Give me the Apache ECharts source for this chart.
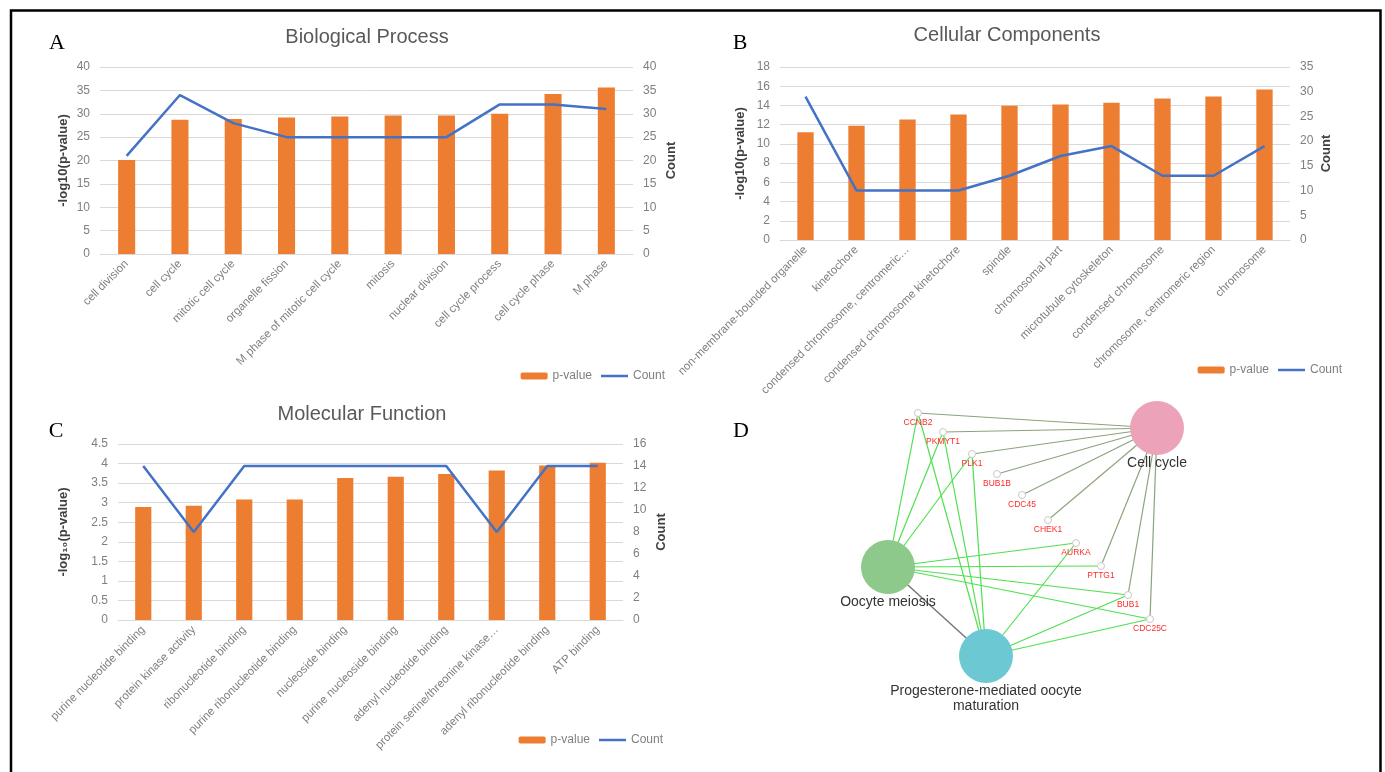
<!DOCTYPE html>
<html>
<head>
<meta charset="utf-8">
<script src="https://cdn.jsdelivr.net/npm/echarts@6/dist/echarts.min.js"></script>
<style>
  html, body { margin: 0; padding: 0; background: #fff; }
  #chart { width: 1385px; height: 772px; }
</style>
</head>
<body>
<div id="chart"></div>
<script>
// GO enrichment: Biological Process
const bpTerms = ['cell division', 'cell cycle', 'mitotic cell cycle', 'organelle fission',
  'M phase of mitotic cell cycle', 'mitosis', 'nuclear division', 'cell cycle process',
  'cell cycle phase', 'M phase'];
const bpLogP = [20.1, 28.7, 28.9, 29.2, 29.4, 29.6, 29.6, 30.0, 34.2, 35.6];
const bpCount = [21, 34, 28, 25, 25, 25, 25, 32, 32, 31];

// Cellular Components
const ccTerms = ['non-membrane-bounded organelle', 'kinetochore', 'condensed chromosome, centromeric…',
  'condensed chromosome kinetochore', 'spindle', 'chromosomal part', 'microtubule cytoskeleton',
  'condensed chromosome', 'chromosome, centromeric region', 'chromosome'];
const ccLogP = [11.2, 11.9, 12.55, 13.07, 13.97, 14.1, 14.28, 14.72, 14.93, 15.66];
const ccCount = [29, 10, 10, 10, 13, 17, 19, 13, 13, 19];

// Molecular Function
const mfTerms = ['purine nucleotide binding', 'protein kinase activity', 'ribonucleotide binding',
  'purine ribonucleotide binding', 'nucleoside binding', 'purine nucleoside binding',
  'adenyl nucleotide binding', 'protein serine/threonine kinase…', 'adenyl ribonucleotide binding',
  'ATP binding'];
const mfLogP = [2.89, 2.92, 3.08, 3.08, 3.63, 3.66, 3.73, 3.82, 3.95, 4.02];
const mfCount = [14, 8, 14, 14, 14, 14, 14, 8, 14, 14];

// KEGG network (D): node positions, in layout units
const pathways = ['Cell cycle', 'Oocyte meiosis', 'Progesterone-mediated oocyte\nmaturation'];
const pathwayPos = [[357, 48], [88, 187], [186, 276]];
const genes = ['CCNB2', 'PKMYT1', 'PLK1', 'BUB1B', 'CDC45', 'CHEK1', 'AURKA', 'PTTG1', 'BUB1', 'CDC25C'];
const genePos = [[118, 33], [143, 52], [172, 74], [197, 94], [222, 115], [248, 140],
  [276, 163], [301, 186], [328, 215], [350, 239]];
const cellCycleGenes = ['CCNB2', 'PKMYT1', 'PLK1', 'BUB1B', 'CDC45', 'CHEK1', 'PTTG1', 'BUB1', 'CDC25C'];
const meiosisGenes = ['CCNB2', 'PKMYT1', 'PLK1', 'AURKA', 'PTTG1', 'BUB1', 'CDC25C'];
const progesteroneGenes = ['CCNB2', 'PKMYT1', 'PLK1', 'AURKA', 'BUB1', 'CDC25C'];

const barColor = '#ed7d31';
const lineColor = '#4472c4';
const gridLine = '#d9d9d9';
const labelGray = '#7f7f7f';
const font = 'Liberation Sans';
const pathwayColors = ['#eca3ba', '#8dc98b', '#6cc9d3'];

const chart = echarts.init(document.getElementById('chart'));

// panel layouts (px)
const panels = [
  { left: 100, top: 67, width: 533, height: 187 },
  { left: 780, top: 67, width: 510, height: 173 },
  { left: 118, top: 444, width: 505, height: 176 }
];

function catAxis(i, terms) {
  return {
    type: 'category', gridIndex: i, data: terms,
    axisLine: { lineStyle: { color: gridLine } },
    axisTick: { show: false },
    axisLabel: { interval: 0, rotate: 45, color: labelGray, fontSize: 11.5, fontFamily: font, margin: 8 }
  };
}
function leftAxis(i, max, interval, name, gap) {
  return {
    type: 'value', gridIndex: i, min: 0, max: max, interval: interval, position: 'left',
    name: name, nameLocation: 'middle', nameRotate: 90, nameGap: gap,
    nameTextStyle: { color: '#404040', fontSize: 13, fontWeight: 'bold', fontFamily: font },
    axisLine: { show: false }, axisTick: { show: false },
    axisLabel: { color: labelGray, fontSize: 12, fontFamily: font, margin: 10 },
    splitLine: { lineStyle: { color: gridLine } }
  };
}
function rightAxis(i, max, interval, gap) {
  return {
    type: 'value', gridIndex: i, min: 0, max: max, interval: interval, position: 'right',
    name: 'Count', nameLocation: 'middle', nameRotate: 90, nameGap: gap,
    nameTextStyle: { color: '#404040', fontSize: 13, fontWeight: 'bold', fontFamily: font },
    axisLine: { show: false }, axisTick: { show: false },
    axisLabel: { color: labelGray, fontSize: 12, fontFamily: font, margin: 10 },
    splitLine: { show: false }
  };
}
function barSeries(i, data) {
  return {
    name: 'p-value', type: 'bar', xAxisIndex: i, yAxisIndex: i * 2,
    data: data, barWidth: '32%', itemStyle: { color: barColor }
  };
}
function lineSeries(i, data) {
  return {
    name: 'Count', type: 'line', xAxisIndex: i, yAxisIndex: i * 2 + 1,
    data: data, symbol: 'none', lineStyle: { color: lineColor, width: 2.5 },
    itemStyle: { color: lineColor }
  };
}
function legendAt(right, top) {
  return {
    data: ['p-value', { name: 'Count', icon: 'path://M0,0H27V2.5H0Z' }], right: right, top: top,
    itemWidth: 27, itemHeight: 7, itemGap: 9,
    textStyle: { color: labelGray, fontSize: 12, fontFamily: font }
  };
}
function panelText(x, y, text, fontStr, color) {
  return { type: 'text', x: x, y: y, silent: true,
    style: { text: text, align: 'center', verticalAlign: 'middle', fill: color, font: fontStr } };
}

// network nodes and edges
const posOf = {};
pathways.forEach((p, i) => { posOf[p] = pathwayPos[i]; });
genes.forEach((g, i) => { posOf[g] = genePos[i]; });

const nodes = [];
pathways.forEach((p, i) => {
  nodes.push({
    name: p, value: pathwayPos[i], symbolSize: 54,
    itemStyle: { color: pathwayColors[i] },
    label: { show: true, position: 'bottom', distance: 1, color: '#333', fontSize: 14,
      fontFamily: font, lineHeight: 15, align: 'center' }
  });
});
genes.forEach((g, i) => {
  nodes.push({
    name: g, value: genePos[i], symbolSize: 7,
    itemStyle: { color: '#fff', borderColor: '#c8c8c8', borderWidth: 1 },
    label: { show: true, position: 'bottom', distance: 1, color: '#ff2a2a', fontSize: 8.5,
      fontFamily: font }
  });
});
const edges = [];
function addEdge(a, b, color, width) {
  edges.push({ coords: [posOf[a], posOf[b]], lineStyle: { color: color, width: width, opacity: 1 } });
}
cellCycleGenes.forEach(g => addEdge(pathways[0], g, '#8aa47c', 1.2));
meiosisGenes.forEach(g => addEdge(pathways[1], g, '#4fe04f', 1.2));
progesteroneGenes.forEach(g => addEdge(pathways[2], g, '#4fe04f', 1.2));
addEdge(pathways[1], pathways[2], '#777', 1.5);

const titleFont = '20px "Liberation Sans"';
const letterFont = '22px "Liberation Serif"';

const option = {
  animation: false,
  textStyle: { fontFamily: font },
  grid: [
    { left: panels[0].left, top: panels[0].top, width: panels[0].width, height: panels[0].height },
    { left: panels[1].left, top: panels[1].top, width: panels[1].width, height: panels[1].height },
    { left: panels[2].left, top: panels[2].top, width: panels[2].width, height: panels[2].height },
    { left: 800, top: 380, width: 400, height: 340 }
  ],
  xAxis: [
    catAxis(0, bpTerms), catAxis(1, ccTerms), catAxis(2, mfTerms),
    { type: 'value', gridIndex: 3, min: 0, max: 400, show: false }
  ],
  yAxis: [
    leftAxis(0, 40, 5, '-log10(p-value)', 30), rightAxis(0, 40, 5, 32),
    leftAxis(1, 18, 2, '-log10(p-value)', 33), rightAxis(1, 35, 5, 30),
    leftAxis(2, 4.5, 0.5, '-log₁₀(p-value)', 48), rightAxis(2, 16, 2, 32),
    { type: 'value', gridIndex: 3, min: 0, max: 340, inverse: true, show: false }
  ],
  legend: [legendAt(715, 365), legendAt(38, 359), legendAt(717, 729)],
  series: [
    barSeries(0, bpLogP), lineSeries(0, bpCount),
    barSeries(1, ccLogP), lineSeries(1, ccCount),
    barSeries(2, mfLogP), lineSeries(2, mfCount),
    {
      type: 'lines', coordinateSystem: 'cartesian2d', xAxisIndex: 3, yAxisIndex: 6,
      data: edges, silent: true
    },
    {
      type: 'scatter', xAxisIndex: 3, yAxisIndex: 6, data: nodes, silent: true,
      itemStyle: { opacity: 1 },
      label: { formatter: '{b}' }
    }
  ],
  graphic: [
    { type: 'rect', silent: true, shape: { x: 11, y: 10.5, width: 1369.5, height: 800 },
      style: { fill: 'none', stroke: '#000', lineWidth: 2.5 } },
    panelText(367, 37, 'Biological Process', titleFont, '#595959'),
    panelText(1007, 35, 'Cellular Components', titleFont, '#595959'),
    panelText(362, 414, 'Molecular Function', titleFont, '#595959'),
    panelText(57, 43, 'A', letterFont, '#000'),
    panelText(740, 43, 'B', letterFont, '#000'),
    panelText(56, 431, 'C', letterFont, '#000'),
    panelText(741, 431, 'D', letterFont, '#000')
  ]
};

chart.setOption(option);
</script>
</body>
</html>
